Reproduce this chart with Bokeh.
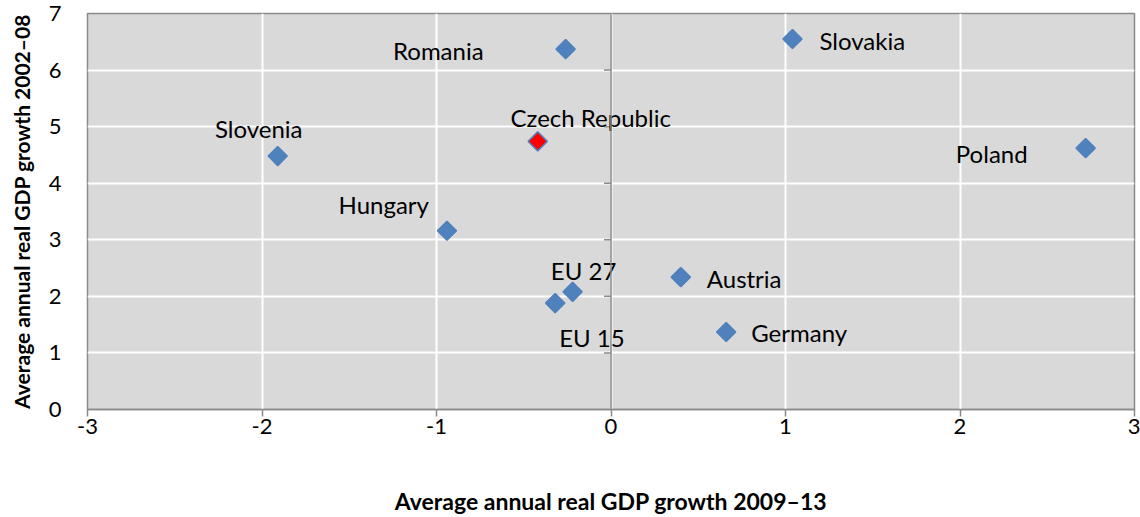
from bokeh.plotting import figure
from bokeh.models import Span, ColumnDataSource, FixedTicker
from bokeh.core.properties import value
from bokeh.embed import file_html
from bokeh.resources import INLINE

countries = ["Slovakia", "Romania", "Czech Republic", "Slovenia", "Poland",
             "Hungary", "Austria", "EU 27", "EU 15", "Germany"]
growth_2009_13 = [1.04, -0.26, -0.42, -1.91, 2.72, -0.94, 0.40, -0.22, -0.32, 0.66]
growth_2002_08 = [6.55, 6.37, 4.74, 4.48, 4.62, 3.16, 2.34, 2.08, 1.88, 1.37]
x_ticks = [-3, -2, -1, 0, 1, 2, 3]
y_ticks = [0, 1, 2, 3, 4, 5, 6, 7]
highlight = "Czech Republic"
x_title = "Average annual real GDP growth 2009–13"
y_title = "Average annual real GDP growth 2002–08"

# label placement (screen offsets)
lab_dx = [27, -82, 53, -19, -58, -18, 26, 11, 4, 25]
lab_dy = [2, 1, -24, -28, 5, -26, 1, -21, 34, 1]
lab_align = ["left", "right", "center", "center", "right", "right", "left", "center", "left", "left"]

FONT = "Lato"
GRAY = "#8a8a8a"

fill = ["#ff0000" if c == highlight else "#4f81bd" for c in countries]
src = ColumnDataSource(dict(x=growth_2009_13, y=growth_2002_08, name=countries,
                            fill=fill, dx=lab_dx, dy=lab_dy, align=lab_align))

p = figure(width=1140, height=517, x_range=(-3, 3), y_range=(0, 7),
           output_backend="svg", toolbar_location=None,
           min_border_left=87, min_border_right=6, min_border_top=13, min_border_bottom=108)
p.border_fill_color = "white"
p.background_fill_color = "#d9d9d9"
p.outline_line_color = GRAY
p.outline_line_width = 1.5

p.xgrid.ticker = FixedTicker(ticks=x_ticks)
p.ygrid.ticker = FixedTicker(ticks=y_ticks)
p.grid.grid_line_color = "white"
p.grid.grid_line_width = 2

p.xaxis.ticker = FixedTicker(ticks=x_ticks)
p.yaxis.ticker = FixedTicker(ticks=y_ticks)
p.xaxis.major_label_overrides = {t: str(t) for t in x_ticks}
p.yaxis.major_label_overrides = {t: str(t) for t in y_ticks}
p.xaxis.axis_line_color = GRAY
p.xaxis.axis_line_width = 1.5
p.xaxis.major_tick_line_color = GRAY
p.xaxis.major_tick_line_width = 1.5
p.xaxis.major_tick_out = 7
p.xaxis.major_tick_in = 0
p.xaxis.minor_tick_line_color = None
p.yaxis.axis_line_color = None
p.yaxis.major_tick_line_color = None
p.yaxis.minor_tick_line_color = None

for ax in (p.xaxis, p.yaxis):
    ax.major_label_text_font = FONT
    ax.major_label_text_font_size = "22px"
    ax.major_label_text_color = "black"
    ax.axis_label_text_font = FONT
    ax.axis_label_text_font_style = "bold"
    ax.axis_label_text_color = "black"

p.xaxis.major_label_standoff = 2
p.xaxis.axis_label = x_title
p.xaxis.axis_label_text_font_size = "23px"
p.xaxis.axis_label_standoff = 50
p.yaxis.major_label_standoff = 20
p.yaxis.axis_label = y_title
p.yaxis.axis_label_text_font_size = "21px"
p.yaxis.axis_label_standoff = 12

# vertical axis at x = 0 with ticks
p.add_layout(Span(location=0, dimension="height", line_color=GRAY, line_width=1.5))
tick_len = 0.04
yt = y_ticks[1:-1]
p.segment(x0=[-tick_len] * len(yt), y0=yt, x1=[0] * len(yt), y1=yt,
          line_color=GRAY, line_width=1.5)

p.scatter("x", "y", source=src, marker="square", angle=0.785398, size=13.5,
          fill_color="fill", line_color="#4f81bd", line_width=1.5)

p.text("x", "y", text="name", source=src, x_offset="dx", y_offset="dy",
       text_align="align", text_baseline="middle",
       text_font=value(FONT), text_font_size="24px", text_color="black")

open("out.html", "w").write(file_html(p, INLINE))
